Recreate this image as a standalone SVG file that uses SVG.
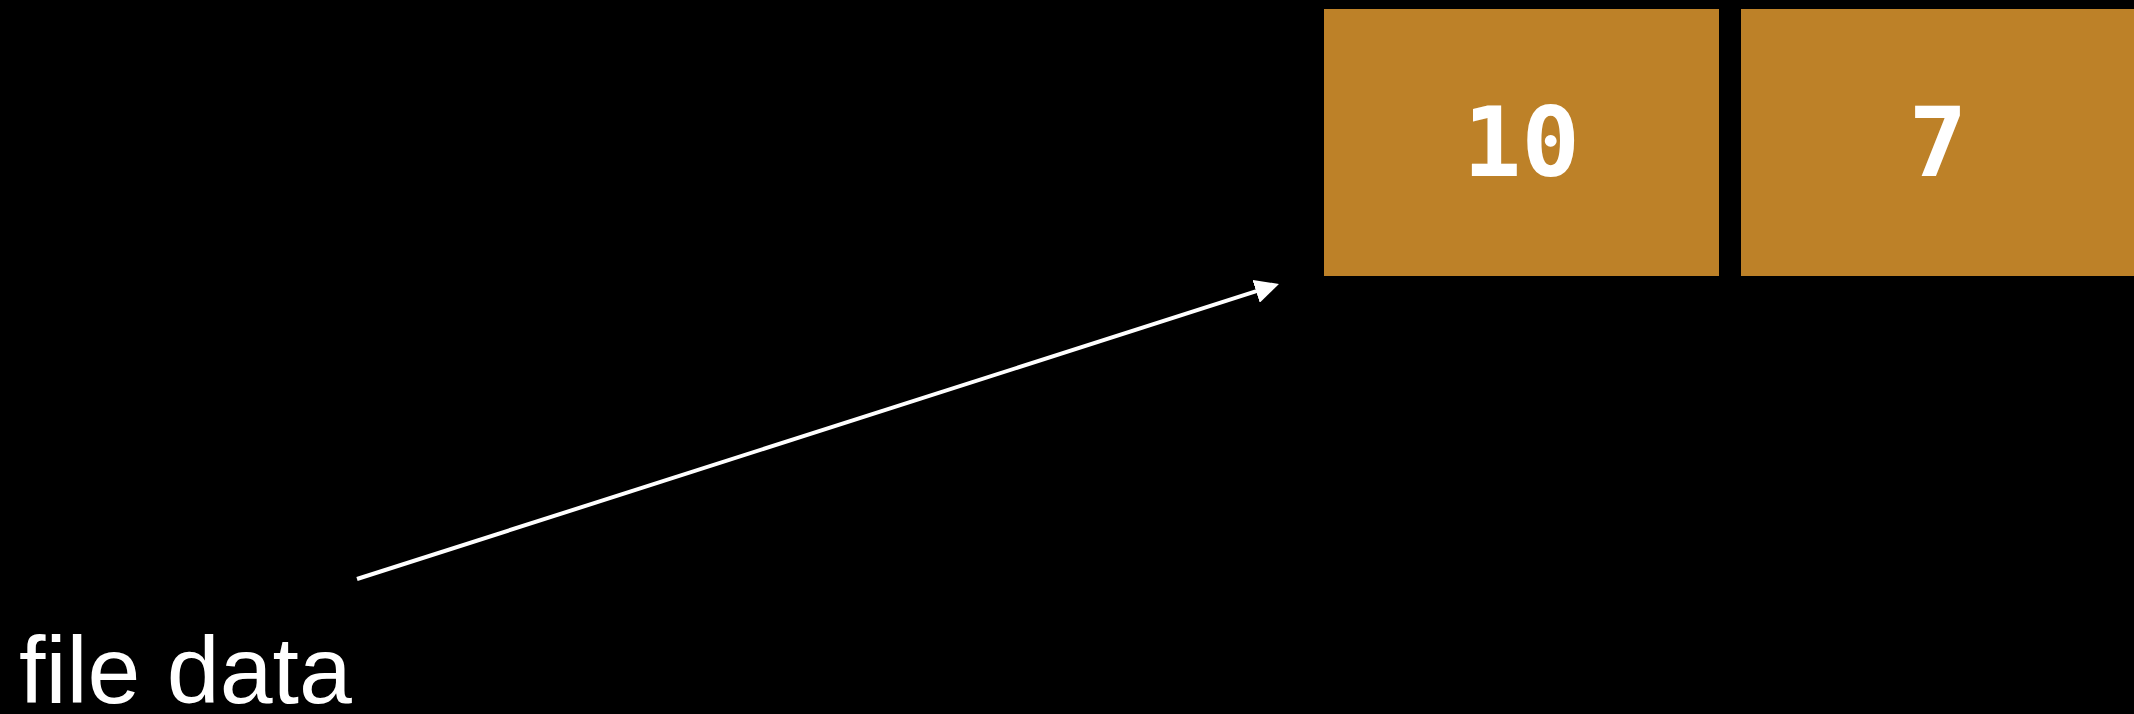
<svg xmlns="http://www.w3.org/2000/svg" width="2134" height="714" viewBox="0 0 2134 714">
<style>
.box{fill:#bd8128}
.num{font-family:"DejaVu Sans Mono","Liberation Mono",monospace;font-weight:bold;font-size:97px;fill:#fff;text-anchor:middle}
.lbl{font-family:"Liberation Sans",Arial,sans-serif;font-size:95px;fill:#fff}
.conn{stroke:#fff;stroke-width:4;fill:none}
</style>
<defs>
<marker id="ah" markerUnits="userSpaceOnUse" markerWidth="24" markerHeight="24" refX="2" refY="12" orient="auto">
<path d="M0,0 L24,12 L0,24 z" fill="#fff"/>
</marker>
</defs>
<rect width="2134" height="714" fill="#000"/>
<g id="node-10">
<rect class="box" x="1324" y="9" width="395" height="267"/>
<text class="num" x="1521.5" y="176">10</text>
</g>
<g id="node-7">
<rect class="box" x="1741" y="9" width="400" height="267"/>
<text class="num" x="1938" y="176">7</text>
</g>
<g id="label-file-data">
<text class="lbl" x="19" y="703">file data</text>
</g>
<g id="connectors">
<line class="conn" x1="357" y1="579" x2="1258" y2="290.7" marker-end="url(#ah)"/>
</g>
</svg>
